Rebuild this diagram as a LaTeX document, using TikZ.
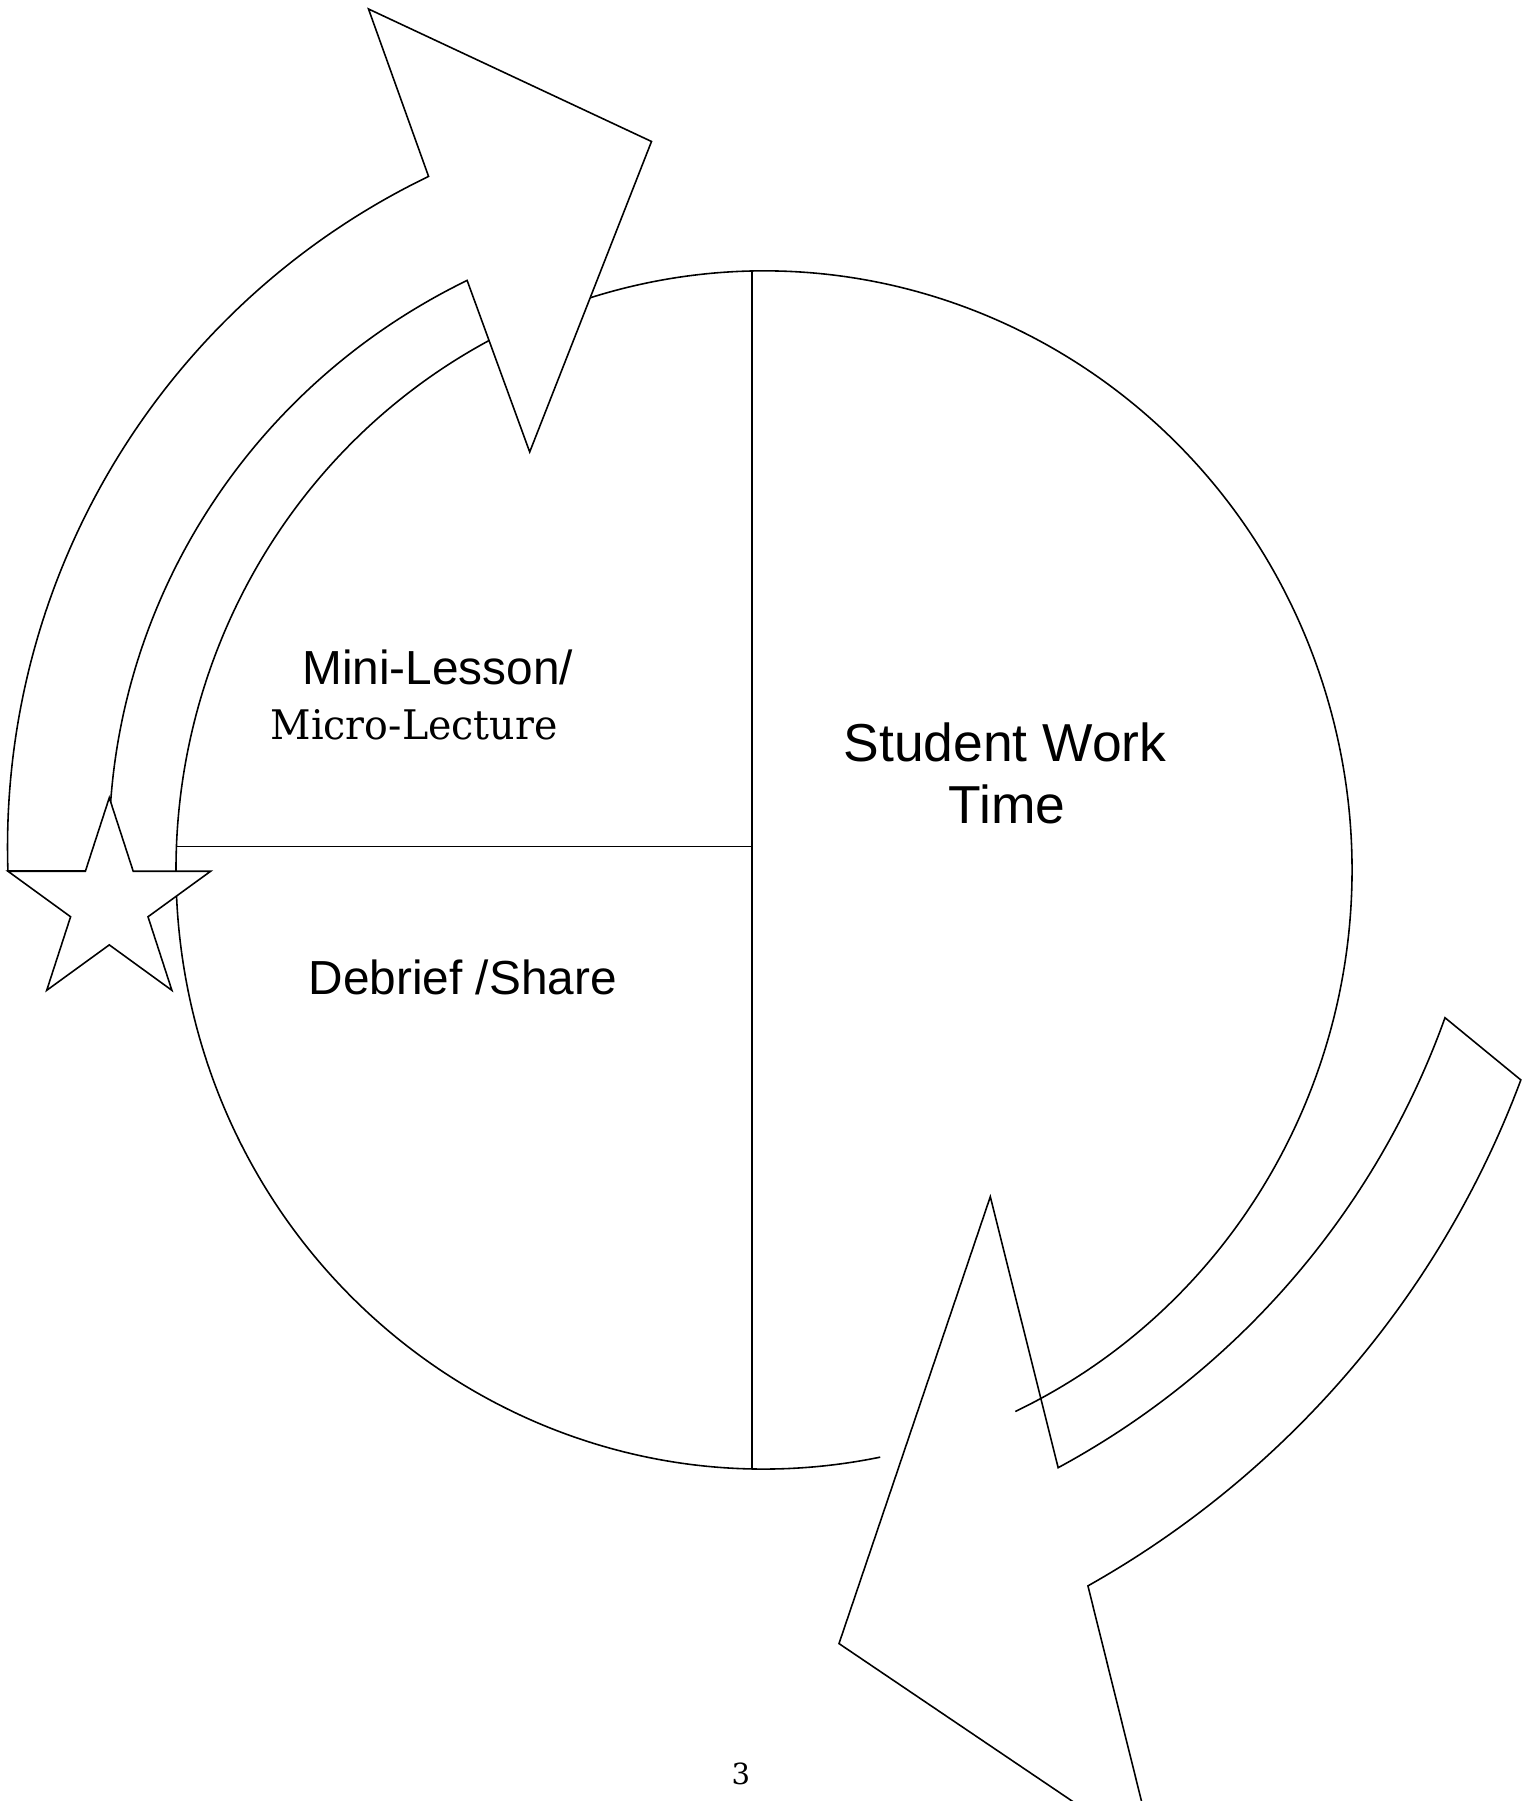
\documentclass[tikz,border=0pt]{standalone}
\usepackage{fontspec}
\setmainfont{Liberation Sans}
\newfontfamily\serifface{DejaVu Serif}
\usetikzlibrary{calc}
\begin{document}
\begin{tikzpicture}[
  outline/.style={draw=black, line width=0.45pt},
  sanslabel/.style={font=\fontsize{13.6}{16}\selectfont, inner sep=0pt, anchor=base west},
  biglabel/.style={font=\fontsize{15.2}{17.5}\selectfont, inner sep=0pt, anchor=base},
]
\useasboundingbox (0,0) rectangle (15.30,18.01);
\clip (0,0) rectangle (15.30,18.01);

% the lesson cycle: an ellipse, open where the two arrows pass over it
\coordinate (cc) at (7.64,9.31);
\draw[outline] (cc) ++(107.2:5.88 and 5.99)
  arc[start angle=107.2, end angle=-64.7, x radius=5.88, y radius=5.99];
\draw[outline] (cc) ++(-78.6:5.88 and 5.99)
  arc[start angle=-78.6, end angle=-242.1, x radius=5.88, y radius=5.99];

% quadrant dividers
\coordinate (vtop) at (7.52,15.30);
\coordinate (vbot) at (7.52,3.32);
\coordinate (hleft) at (1.77,9.543);
\coordinate (hmid) at (7.52,9.543);
\draw[outline] (vtop) -- (vbot);
\draw[outline] (hleft) -- (hmid);

% upper curved arrow
\coordinate (ac) at (7.52,9.54);
\coordinate (abarb) at (3.685,17.92);
\coordinate (atip) at (6.515,16.595);
\coordinate (ainner) at (5.297,13.49);
\draw[outline, fill=white] ($(ac)+(181.85:7.445)$)
  arc[start angle=181.85, end angle=115.75, radius=7.445]
  -- (abarb) -- (atip) -- (ainner)
  -- ($(ac)+(116.3:6.43 and 6.32)$)
  arc[start angle=116.3, end angle=182.18, x radius=6.43, y radius=6.32]
  -- cycle;

% lower curved arrow (its outer barb runs past the page edge)
\coordinate (bci) at (6.638,10.636);
\coordinate (bco) at (6.122,10.604);
\coordinate (binner) at (9.903,6.043);
\coordinate (btip) at (8.39,1.574);
\coordinate (bbarb) at (11.555,-0.564);
\draw[outline] ($(bci)+(-19.74:8.30)$)
  arc[start angle=-19.74, end angle=-61.63, radius=8.30]
  -- (binner) -- (btip) -- (bbarb)
  -- ($(bco)+(-60.63:9.70)$)
  arc[start angle=-60.63, end angle=-20.48, radius=9.70]
  -- cycle;

% start marker
\coordinate (sc) at (1.093,8.968);
\draw[outline, fill=white]
  ($(sc)+(90:1.065)$) -- ($(sc)+(126:0.407)$) -- ($(sc)+(162:1.065)$)
  -- ($(sc)+(198:0.407)$) -- ($(sc)+(234:1.065)$) -- ($(sc)+(270:0.407)$)
  -- ($(sc)+(306:1.065)$) -- ($(sc)+(342:0.407)$) -- ($(sc)+(18:1.065)$)
  -- ($(sc)+(54:0.407)$) -- cycle;

% labels
\node[sanslabel] (mini) at (3.015,11.16) {Mini-Lesson/};
\node[inner sep=0pt, anchor=base west] (micro) at (2.70,10.61)
  {\resizebox{2.867cm}{0.30cm}{\serifface Micro-Lecture}};
\node[sanslabel] (debrief) at (3.08,8.06) {Debrief /Share};
\node[biglabel] (student) at (10.05,10.393) {Student Work};
\node[biglabel] (time) at (10.07,9.777) {Time};
\node[inner sep=0pt, anchor=base] (pagenum) at (7.408,0.167)
  {\resizebox{!}{0.216cm}{\serifface 3}};
\end{tikzpicture}
\end{document}
